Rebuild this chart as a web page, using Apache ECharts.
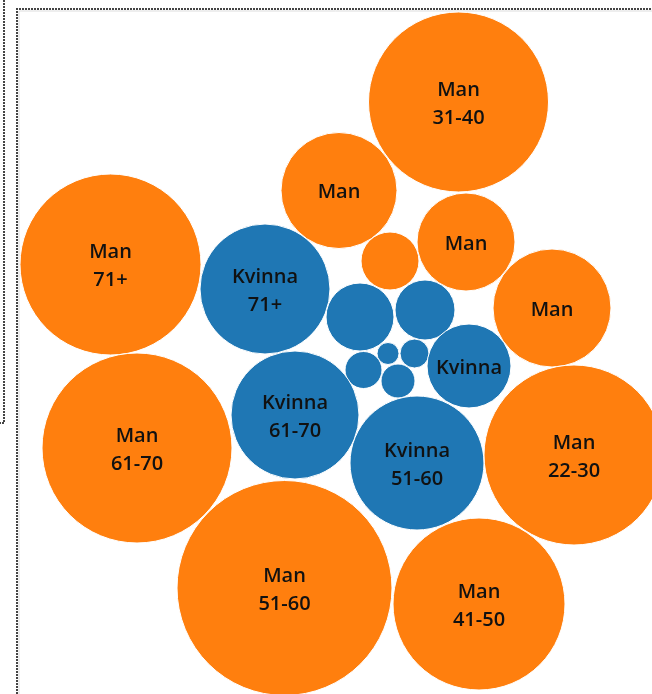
<!DOCTYPE html>
<html>
<head>
<meta charset="utf-8">
<script src="https://cdn.jsdelivr.net/npm/echarts@6/dist/echarts.min.js"></script>
<style>
  html, body { margin: 0; padding: 0; background: #fff; }
  #main { width: 652px; height: 694px; }
</style>
</head>
<body>
<div id="main"></div>
<script>
// bubble data (x, y in chart units, size = radius)
const genders = ["Man", "Man", "Man", "Man", "Man", "Man", "Kvinna", "Kvinna", "Kvinna", "Kvinna", "Kvinna", "Kvinna", "Kvinna", "Kvinna", "Kvinna", "Kvinna", "Man", "Man", "Man", "Man"];
const ages = ["31-40", "", "", "", "", "71+", "71+", "", "", "", "", "", "", "", "61-70", "51-60", "61-70", "22-30", "51-60", "41-50"];
const showLabel = [1, 1, 1, 0, 1, 1, 1, 0, 0, 0, 0, 0, 0, 1, 1, 1, 1, 1, 1, 1];
const xs = [458.5, 339, 466, 390, 552, 110.5, 265, 360, 425, 363.5, 388, 414.5, 398, 469, 295, 417, 137, 574, 284.5, 479];
const ys = [102, 190.5, 242, 261, 308, 264.5, 289, 317, 310, 370, 353.5, 353.5, 381, 366, 415, 463, 448, 455, 588, 604];
const sizes = [90, 58, 49, 29, 59, 90.5, 65, 34, 30, 18.5, 11, 14.5, 17, 42, 64, 67, 95, 90, 107.5, 86];

const colors = { Man: "#ff7f0e", Kvinna: "#1f77b4" };

const chart = echarts.init(document.getElementById("main"));

const data = xs.map((x, i) => ({
  value: [x, ys[i], sizes[i]],
  itemStyle: { color: colors[genders[i]] },
  label: {
    show: !!showLabel[i],
    formatter: ages[i] ? genders[i] + "\n" + ages[i] : genders[i]
  }
}));

const dot = { stroke: "#444", lineWidth: 2, lineDash: [2, 1] };

chart.setOption({
  animation: false,
  grid: { left: 0, right: 0, top: 0, bottom: 0 },
  xAxis: { type: "value", min: 0, max: 652, show: false },
  yAxis: { type: "value", min: 0, max: 694, inverse: true, show: false },
  series: [
    {
      type: "scatter",
      data: data,
      // 1 axis unit = 1 px, so the diameter is 2 * size
      symbolSize: function (v) { return v[2] * 2; },
      itemStyle: { opacity: 1, borderColor: "#fff", borderWidth: 1 },
      label: {
        position: "inside",
        offset: [0, 2],
        color: "#111",
        fontFamily: "Open Sans",
        fontWeight: 600,
        fontSize: 20,
        lineHeight: 28
      }
    }
  ],
  graphic: [
    { type: "polyline", silent: true, shape: { points: [[4, 0], [4, 423], [0, 423]] }, style: dot },
    { type: "line", silent: true, shape: { x1: 19, y1: 11, x2: 19, y2: 694 }, style: { stroke: "#ddd", lineWidth: 1 } },
    { type: "line", silent: true, shape: { x1: 19, y1: 11, x2: 652, y2: 11 }, style: { stroke: "#ddd", lineWidth: 1 } },
    { type: "polyline", silent: true, shape: { points: [[17, 694], [17, 9], [652, 9]] }, style: dot }
  ]
});
</script>
</body>
</html>
